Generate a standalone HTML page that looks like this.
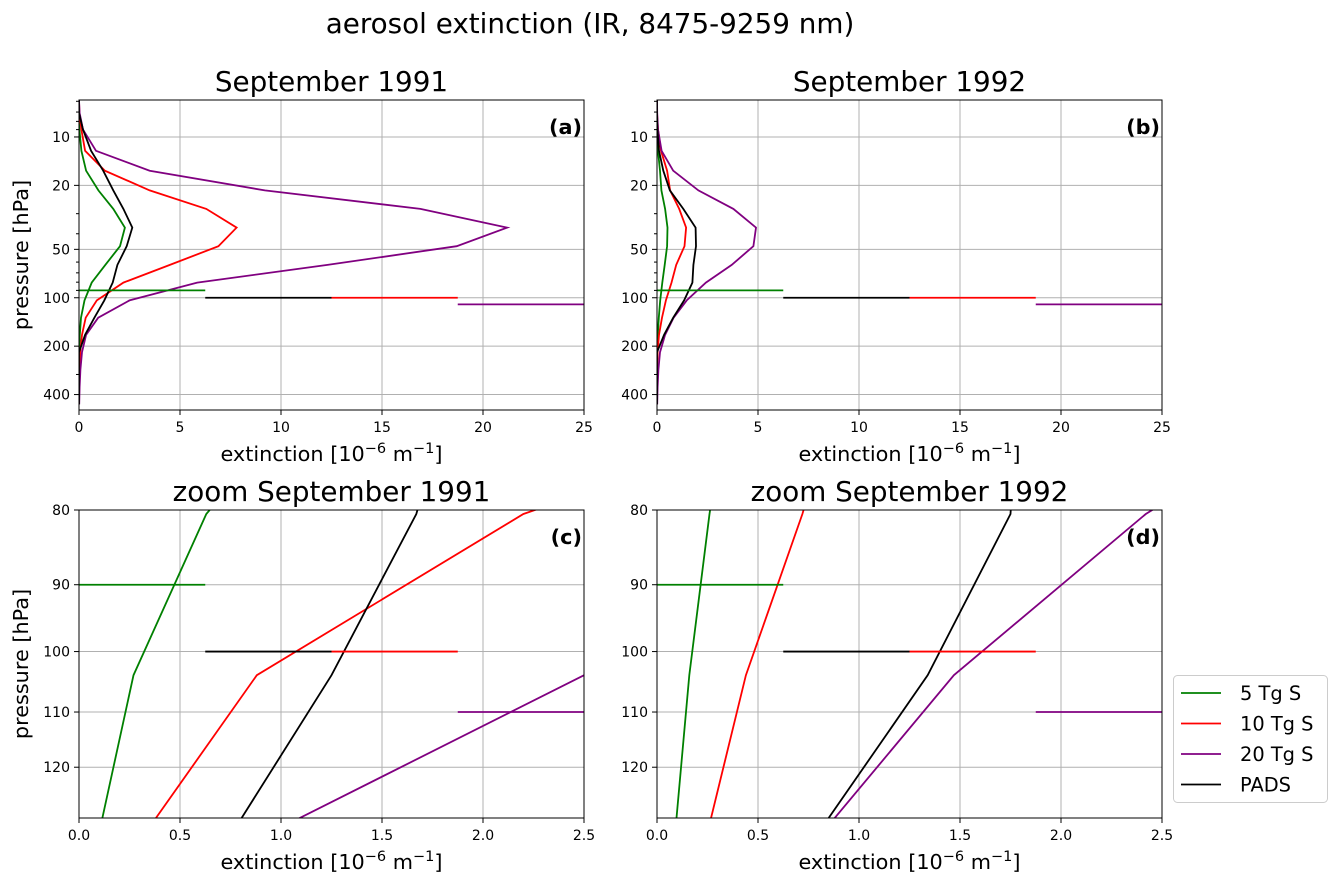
<!DOCTYPE html>
<html><head><meta charset="utf-8"><style>
html,body{margin:0;padding:0;background:#fff;overflow:hidden;width:1341px;height:886px;}
svg{display:block;}
svg text{font-family:"DejaVu Sans","Liberation Sans",sans-serif;}
</style></head><body>
<svg id="fig" width="1341" height="886" xmlns="http://www.w3.org/2000/svg">
<text x="590" y="33" font-size="27.8" text-anchor="middle">aerosol extinction (IR, 8475-9259 nm)</text>
</svg>
<script>
const levels=[5.9,7.1,9.0,12.2,16.2,21.5,28,36.6,47.8,62.5,80.5,103.8,133,170,218,280,360,460];
const g91=[0,0,0.02,0.12,0.35,0.96,1.7,2.27,2.03,1.3,0.63,0.27,0.1,0.04,0.01,0,0,0];
const r91=[0,0.02,0.12,0.3,1.28,3.5,6.3,7.8,6.9,4.5,2.2,0.88,0.33,0.15,0.06,0.03,0.01,0];
const p91=[0,0.03,0.2,0.84,3.5,9.2,16.9,21.2,18.7,12.3,5.85,2.5,0.95,0.35,0.15,0.07,0.03,0.01];
const k91=[0,0,0.2,0.6,1.2,1.7,2.2,2.64,2.36,1.9,1.67,1.25,0.76,0.3,0,0,0,0];
const g92=[0,0,0.01,0.05,0.15,0.22,0.4,0.52,0.5,0.38,0.26,0.16,0.09,0.04,0.01,0,0,0];
const r92=[0,0,0.05,0.2,0.5,0.65,1.1,1.44,1.36,0.95,0.72,0.44,0.25,0.1,0.03,0.01,0,0];
const p92=[0,0.01,0.05,0.23,0.8,2.05,3.78,4.9,4.77,3.7,2.42,1.47,0.82,0.4,0.15,0.07,0.03,0.01];
const k92=[0,0,0.02,0.1,0.31,0.64,1.3,1.91,1.93,1.8,1.75,1.34,0.8,0.35,0,0,0,0];
const refP=[90,100,100,110];
const refFrac=[[0,0.25],[0.25,0.5],[0.5,0.75],[0.75,1]];
const refNames=['5','pads','10','20'];
const topTicks=[10,20,50,100,200,400];
const topMinor=[6,7,8,9,30,40,60,70,80,90,300,500];
const botTicks=[80,90,100,110,120];
const xTop=[0,5,10,15,20,25];
const xBot=[0,0.5,1.0,1.5,2.0,2.5];
const NS='http://www.w3.org/2000/svg';
const fig=document.getElementById('fig');
function mk(tag,attrs,parent){const e=document.createElementNS(NS,tag);for(const k in attrs)e.setAttribute(k,attrs[k]);(parent||fig).appendChild(e);return e;}
function panel(o){
 const {x0,y0,w,h,xmax,ymin,ymax,yt,ymn,xt,title,label,series,nm,showY,xfmt}=o;
 const g=mk('g',{});
 
 
 const X=v=>x0+v/xmax*w;
 const L0=Math.log10(ymin),L1=Math.log10(ymax);
 const Y=p=>y0+(Math.log10(p)-L0)/(L1-L0)*h;
 const cid='clip'+nm;
 const cp=mk('clipPath',{id:cid},g);mk('rect',{x:x0,y:y0,width:w,height:h},cp);
 xt.forEach(v=>{mk('line',{x1:X(v),x2:X(v),y1:y0,y2:y0+h,stroke:'#b0b0b0','stroke-width':1},g);
  mk('line',{x1:X(v),x2:X(v),y1:y0+h,y2:y0+h+5,stroke:'#000'},g);
  const t=mk('text',{x:X(v),y:y0+h+22,'font-size':14,'text-anchor':'middle'},g);t.textContent=xfmt(v);
  
  });
 yt.forEach(p=>{mk('line',{x1:x0,x2:x0+w,y1:Y(p),y2:Y(p),stroke:'#b0b0b0','stroke-width':1},g);
  mk('line',{x1:x0-5,x2:x0,y1:Y(p),y2:Y(p),stroke:'#000'},g);
  const t=mk('text',{x:x0-9,y:Y(p)+5,'font-size':14,'text-anchor':'end'},g);t.textContent=p;
  
  });
 ymn.forEach(p=>{if(p>ymin&&p<ymax)mk('line',{x1:x0-3,x2:x0,y1:Y(p),y2:Y(p),stroke:'#000'},g);});
 const cg=mk('g',{'clip-path':`url(#${cid})`},g);
 series.forEach(s=>{
  const pts=levels.map((p,i)=>X(s.v[i]).toFixed(1)+','+Y(p).toFixed(1)).join(' ');
  const pl=mk('polyline',{points:pts,fill:'none',stroke:s.c,'stroke-width':1.8},cg);
  
  
 });
 const rc=['green','black','red','purple'];
 refP.forEach((p,i)=>{const l=mk('line',{x1:X(refFrac[i][0]*xmax),x2:X(refFrac[i][1]*xmax),y1:Y(p),y2:Y(p),stroke:rc[i],'stroke-width':1.8},cg);
  
  });
 mk('rect',{x:x0,y:y0,width:w,height:h,fill:'none',stroke:'#000','stroke-width':1},g);
 const tt=mk('text',{x:x0+w/2,y:y0-9,'font-size':27.8,'text-anchor':'middle'},g);tt.textContent=title;
 
 
 const lb=mk('text',{x:x0+w-2,y:y0+34,'font-size':20.8,'font-weight':'bold','text-anchor':'end'},g);lb.textContent=label;
 
 
 const xl=mk('text',{x:x0+w/2,y:y0+h+51,'font-size':20.8,'text-anchor':'middle'},g);
 xl.innerHTML='extinction [10<tspan dy="-8" font-size="14.5">−6</tspan><tspan dy="8"> m</tspan><tspan dy="-8" font-size="14.5">−1</tspan><tspan dy="8">]</tspan>';
 
 
 if(showY){const yl=mk('text',{x:0,y:0,'font-size':20.8,'text-anchor':'middle',transform:`translate(${x0-51},${y0+h/2}) rotate(-90)`},g);yl.textContent='pressure [hPa]';
  
  }
}
const s91=[{v:g91,c:'green',n:'line-5tg'},{v:r91,c:'red',n:'line-10tg'},{v:p91,c:'purple',n:'line-20tg'},{v:k91,c:'black',n:'line-pads'}];
const s92=[{v:g92,c:'green',n:'line-5tg'},{v:r92,c:'red',n:'line-10tg'},{v:p92,c:'purple',n:'line-20tg'},{v:k92,c:'black',n:'line-pads'}];
const f0=v=>String(v), f1=v=>v.toFixed(1);
panel({x0:79,y0:100,w:505,h:310,xmax:25,ymin:5.89,ymax:499,yt:topTicks,ymn:topMinor,xt:xTop,title:'September 1991',label:'(a)',series:s91,nm:'panel-a',showY:true,xfmt:f0});
panel({x0:657,y0:100,w:505,h:310,xmax:25,ymin:5.89,ymax:499,yt:topTicks,ymn:topMinor,xt:xTop,title:'September 1992',label:'(b)',series:s92,nm:'panel-b',showY:false,xfmt:f0});
panel({x0:79,y0:510,w:505,h:308,xmax:2.5,ymin:80,ymax:130,yt:botTicks,ymn:[],xt:xBot,title:'zoom September 1991',label:'(c)',series:s91,nm:'panel-c',showY:true,xfmt:f1});
panel({x0:657,y0:510,w:505,h:308,xmax:2.5,ymin:80,ymax:130,yt:botTicks,ymn:[],xt:xBot,title:'zoom September 1992',label:'(d)',series:s92,nm:'panel-d',showY:false,xfmt:f1});
const lg=mk('g',{});


mk('rect',{x:1173.5,y:675.5,width:154,height:127,rx:4,fill:'#fff',stroke:'#ccc'},lg);
const legN=['5 Tg S','10 Tg S','20 Tg S','PADS'],legC=['green','red','purple','black'];
legN.forEach((n,i)=>{const yy=693+i*30.5;
 const e=mk('g',{},lg);
 
 
 mk('line',{x1:1181,x2:1221,y1:yy,y2:yy,stroke:legC[i],'stroke-width':1.8},e);
 const t=mk('text',{x:1240,y:yy+7,'font-size':19.4},e);t.textContent=n;});
</script>
</body></html>
